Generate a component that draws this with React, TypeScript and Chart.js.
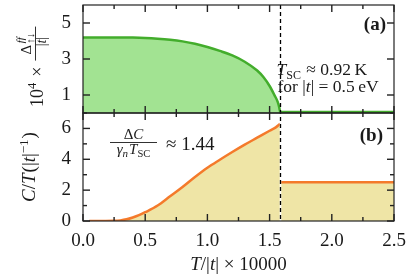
import { useEffect, useRef } from "react";
import { Chart, registerables } from "chart.js";

Chart.register(...registerables);

// ---------- data ----------
const T_GAP = [0, 0.2, 0.4, 0.5, 0.6, 0.7, 0.8, 0.9, 1.0, 1.1, 1.2, 1.3, 1.4, 1.45, 1.5, 1.54, 1.565, 1.578, 1.585, 1.6, 2.5];
const GAP = [4.2, 4.2, 4.19, 4.17, 4.13, 4.07, 3.98, 3.85, 3.67, 3.45, 3.2, 2.85, 2.36, 2.0, 1.5, 0.98, 0.62, 0.3, 0.06, 0.06, 0.06];

const T_C_SC = [0.05, 0.15, 0.25, 0.3, 0.35, 0.4, 0.45, 0.5, 0.6, 0.7, 0.8, 0.9, 1.0, 1.1, 1.2, 1.3, 1.4, 1.5, 1.55, 1.585];
const C_SC = [0, 0, 0.01, 0.04, 0.11, 0.23, 0.38, 0.57, 1.0, 1.6, 2.2, 2.85, 3.45, 3.97, 4.47, 4.95, 5.4, 5.85, 6.07, 6.3];

const T_C_N = [1.585, 2.5];
const C_N = [2.51, 2.51];

const T_SC_VALUE = 1.585;

const X_TICKS = [0, 0.5, 1.0, 1.5, 2.0, 2.5];
const X_MINOR_TICKS = [0.25, 0.75, 1.25, 1.75, 2.25];
const TOP_Y_TICKS = [1, 3, 5];
const BOTTOM_Y_TICKS = [0, 2, 4, 6];
const BOTTOM_Y_MINOR_TICKS = [1, 3, 5, 7];

// ---------- style ----------
const SERIF = '"Liberation Serif", "DejaVu Serif", serif';
const GREEN = "#43ad2c";
const GREEN_FILL = "#a2e392";
const ORANGE = "#f47a2b";
const YELLOW = "#efe5a6";
const INK = "#1a1a1a";
const FRAME = "#222222";

const f = (size: number, style = "normal", weight = "normal") => `${style} ${weight} ${size}px ${SERIF}`;

type Run = { t: string; font: string; dy?: number; dx?: number };

function runsWidth(ctx: CanvasRenderingContext2D, runs: Run[]) {
  let w = 0;
  for (const r of runs) {
    ctx.font = r.font;
    w += (r.dx || 0) + ctx.measureText(r.t).width;
  }
  return w;
}

function drawRuns(ctx: CanvasRenderingContext2D, runs: Run[], x: number, y: number) {
  let cx = x;
  for (const r of runs) {
    ctx.font = r.font;
    cx += r.dx || 0;
    ctx.fillText(r.t, cx, y + (r.dy || 0));
    cx += ctx.measureText(r.t).width;
  }
  return cx;
}

const pts = (xs: number[], ys: number[]) => xs.map((x, i) => ({ x, y: ys[i] }));

// inward tick marks, drawn as small filled rectangles
const tickPlugin = {
  id: "inwardTicks",
  afterDraw(chart: any) {
    const ctx: CanvasRenderingContext2D = chart.ctx;
    const xs = chart.scales.x;
    const ya = chart.scales.ya;
    const yb = chart.scales.yb;
    const L = xs.left;
    const R = xs.right;
    const MAJ = 7;
    const MIN = 4;
    const W = 1.4;
    ctx.save();
    ctx.fillStyle = FRAME;
    const vtick = (px: number, y0: number, len: number) => {
      ctx.fillRect(px - W / 2, y0, W, len);
    };
    const htick = (x0: number, py: number, len: number) => {
      ctx.fillRect(x0, py - W / 2, len, W);
    };
    [ya, yb].forEach((ys: any) => {
      X_TICKS.forEach((v) => {
        const px = xs.getPixelForValue(v);
        vtick(px, ys.top, MAJ);
        vtick(px, ys.bottom - MAJ, MAJ);
      });
      X_MINOR_TICKS.forEach((v) => {
        const px = xs.getPixelForValue(v);
        vtick(px, ys.top, MIN);
        vtick(px, ys.bottom - MIN, MIN);
      });
    });
    TOP_Y_TICKS.forEach((v) => {
      const py = ya.getPixelForValue(v);
      htick(L, py, MAJ);
      htick(R - MAJ, py, MAJ);
    });
    BOTTOM_Y_TICKS.forEach((v) => {
      const py = yb.getPixelForValue(v);
      htick(L, py, MAJ);
      htick(R - MAJ, py, MAJ);
    });
    BOTTOM_Y_MINOR_TICKS.forEach((v) => {
      const py = yb.getPixelForValue(v);
      htick(L, py, MIN);
      htick(R - MIN, py, MIN);
    });
    ctx.restore();
  },
};

const decorPlugin = {
  id: "decor",
  afterDraw(chart: any) {
    const ctx: CanvasRenderingContext2D = chart.ctx;
    const xs = chart.scales.x;
    const ya = chart.scales.ya;
    const yb = chart.scales.yb;
    const L = xs.left;
    const R = xs.right;
    ctx.save();

    // dashed line at T_SC
    const xd = Math.round(xs.getPixelForValue(T_SC_VALUE)) + 0.5;
    ctx.strokeStyle = "#ffffff";
    ctx.lineWidth = 1.6;
    ctx.beginPath();
    ctx.moveTo(xd, yb.top);
    ctx.lineTo(xd, yb.bottom);
    ctx.stroke();
    ctx.strokeStyle = "#000000";
    ctx.lineWidth = 1.3;
    ctx.setLineDash([4, 3]);
    ctx.beginPath();
    ctx.moveTo(xd, ya.top);
    ctx.lineTo(xd, yb.bottom);
    ctx.stroke();
    ctx.setLineDash([]);

    // frames
    ctx.strokeStyle = FRAME;
    ctx.lineWidth = 1.2;
    for (const ys of [ya, yb]) {
      ctx.strokeRect(L, ys.top, R - L, ys.bottom - ys.top);
    }

    // texts
    ctx.fillStyle = INK;
    ctx.strokeStyle = INK;
    ctx.textBaseline = "alphabetic";
    ctx.textAlign = "left";
    const seg = (x1: number, y1: number, x2: number, y2: number) => {
      ctx.beginPath();
      ctx.moveTo(x1, y1);
      ctx.lineTo(x2, y2);
      ctx.stroke();
    };

    // panel labels
    ctx.font = f(19, "normal", "bold");
    ctx.textAlign = "right";
    ctx.fillText("(a)", R - 8, 30);
    ctx.fillText("(b)", R - 11, 141);
    ctx.textAlign = "left";

    // T_SC annotation
    const A = 17.5;
    drawRuns(ctx, [
      { t: "T", font: f(A, "italic") },
      { t: "SC", font: f(12), dy: 3.5 },
      { t: " \u2248 0.92\u2009K", font: f(A), dx: 1 },
    ], xd - 4, 75);
    drawRuns(ctx, [
      { t: "for |", font: f(A) },
      { t: "t", font: f(A, "italic") },
      { t: "| = 0.5\u2009eV", font: f(A) },
    ], xd - 3, 91.5);

    // Delta C / (gamma_n T_SC) ≈ 1.44
    const fx0 = 110;
    const fx1 = 157;
    const fc = (fx0 + fx1) / 2;
    const num: Run[] = [
      { t: "\u0394", font: f(15) },
      { t: "C", font: f(15, "italic") },
    ];
    drawRuns(ctx, num, fc - runsWidth(ctx, num) / 2, 139);
    ctx.lineWidth = 0.9;
    seg(fx0, 142.5, fx1, 142.5);
    const den: Run[] = [
      { t: "\u03B3", font: f(15, "italic") },
      { t: "n", font: f(11, "italic"), dy: 3 },
      { t: "T", font: f(15, "italic"), dx: 1 },
      { t: "SC", font: f(10.5), dy: 3 },
    ];
    drawRuns(ctx, den, fc - runsWidth(ctx, den) / 2, 154);
    drawRuns(ctx, [{ t: "\u2248 1.44", font: f(19) }], 166, 149.5);

    // x axis title
    const xt: Run[] = [
      { t: "T", font: f(19, "italic") },
      { t: "/|", font: f(19) },
      { t: "t", font: f(19, "italic") },
      { t: "| \u00D7 10000", font: f(19) },
    ];
    drawRuns(ctx, xt, (L + R) / 2 - runsWidth(ctx, xt) / 2, 270);

    // bottom y title (rotated)
    ctx.save();
    ctx.translate(35, (yb.top + yb.bottom) / 2);
    ctx.rotate(-Math.PI / 2);
    const yt: Run[] = [
      { t: "C", font: f(19, "italic") },
      { t: "/", font: f(19) },
      { t: "T", font: f(19, "italic") },
      { t: "(|", font: f(19), dx: 1 },
      { t: "t", font: f(19, "italic") },
      { t: "|", font: f(19) },
      { t: "\u22121", font: f(13), dy: -7 },
      { t: ")", font: f(19), dx: 1 },
    ];
    drawRuns(ctx, yt, -runsWidth(ctx, yt) / 2, 0);
    ctx.restore();

    // top y title (rotated): starts near the bottom of the top panel
    ctx.save();
    ctx.translate(43, ya.bottom - 6);
    ctx.rotate(-Math.PI / 2);
    let x = drawRuns(ctx, [
      { t: "10", font: f(18) },
      { t: "4", font: f(12.5), dy: -7.5 },
    ], 0, 0);
    x = drawRuns(ctx, [{ t: "\u00D7", font: f(18) }], x + 6, 0);
    const b0 = x + 6;
    const b1 = b0 + 34;
    const bc = (b0 + b1) / 2;
    ctx.lineWidth = 0.9;
    seg(b0, -7.5, b1, -7.5);
    ctx.font = f(15);
    const dW = ctx.measureText("\u0394").width;
    ctx.font = f(11, "italic");
    const ffW = ctx.measureText("ff").width;
    ctx.font = f(11);
    const arW = ctx.measureText("\u2191\u2193").width;
    const nW = dW + Math.max(ffW, arW) + 1;
    const n0 = bc - nW / 2;
    drawRuns(ctx, [{ t: "\u0394", font: f(15) }], n0, -12);
    drawRuns(ctx, [{ t: "ff", font: f(11, "italic") }], n0 + dW + 1.5, -19.5);
    drawRuns(ctx, [{ t: "\u2191\u2193", font: f(11) }], n0 + dW + 1, -9);
    const dn: Run[] = [
      { t: "|", font: f(14) },
      { t: "t", font: f(14, "italic") },
      { t: "|", font: f(14) },
    ];
    drawRuns(ctx, dn, bc - runsWidth(ctx, dn) / 2 + 2, 2.5);
    ctx.restore();

    ctx.restore();
  },
};

export default function App() {
  const ref = useRef<HTMLCanvasElement>(null);

  useEffect(() => {
    document.body.style.margin = "0";
    const tickFont = { family: SERIF, size: 19 };
    const yCommon = {
      type: "linear" as const,
      position: "left" as const,
      stack: "panels",
      stackWeight: 1,
      grid: { display: false, drawTicks: false },
      border: { display: false },
      ticks: { font: tickFont, color: INK, padding: 12, autoSkip: false },
      afterFit: (s: any) => {
        s.width = 83;
        s.paddingTop = 0;
        s.paddingBottom = 0;
      },
    };
    const chart = new Chart(ref.current as HTMLCanvasElement, {
      type: "line",
      data: {
        datasets: [
          {
            data: pts(T_GAP, GAP),
            yAxisID: "ya",
            borderColor: GREEN,
            backgroundColor: GREEN_FILL,
            fill: "origin",
            borderWidth: 2.5,
            pointRadius: 0,
            cubicInterpolationMode: "monotone",
          },
          {
            data: pts(T_C_SC, C_SC),
            yAxisID: "yb",
            borderColor: ORANGE,
            backgroundColor: YELLOW,
            fill: "origin",
            borderWidth: 2.5,
            pointRadius: 0,
            cubicInterpolationMode: "monotone",
          },
          {
            data: pts(T_C_N, C_N),
            yAxisID: "yb",
            borderColor: ORANGE,
            backgroundColor: YELLOW,
            fill: "origin",
            borderWidth: 2.5,
            pointRadius: 0,
          },
        ],
      },
      options: {
        animation: false,
        responsive: false,
        maintainAspectRatio: false,
        layout: { padding: { left: 0, right: 21, top: 5, bottom: 0 } },
        plugins: { legend: { display: false }, tooltip: { enabled: false } },
        scales: {
          x: {
            type: "linear",
            min: 0,
            max: 2.5,
            grid: { display: false, drawTicks: false },
            border: { display: false },
            afterBuildTicks: (s: any) => {
              s.ticks = X_TICKS.map((v) => ({ value: v }));
            },
            ticks: {
              font: tickFont,
              color: INK,
              padding: 9,
              maxRotation: 0,
              autoSkip: false,
              callback: (v: any) => Number(v).toFixed(1),
            },
            afterFit: (s: any) => {
              s.height = 56;
              s.paddingLeft = 0;
              s.paddingRight = 0;
            },
          },
          yb: {
            ...yCommon,
            min: 0,
            max: 7,
            afterBuildTicks: (s: any) => {
              s.ticks = BOTTOM_Y_TICKS.map((v) => ({ value: v }));
            },
          },
          ya: {
            ...yCommon,
            min: 0,
            max: 6,
            afterBuildTicks: (s: any) => {
              s.ticks = TOP_Y_TICKS.map((v) => ({ value: v }));
            },
          },
        } as any,
      },
      plugins: [tickPlugin, decorPlugin],
    });
    return () => chart.destroy();
  }, []);

  return (
    <div style={{ position: "fixed", left: 0, top: 0, width: 415, height: 277, background: "#fff" }}>
      <canvas ref={ref} width={415} height={277} style={{ width: 415, height: 277, display: "block" }} />
    </div>
  );
}
